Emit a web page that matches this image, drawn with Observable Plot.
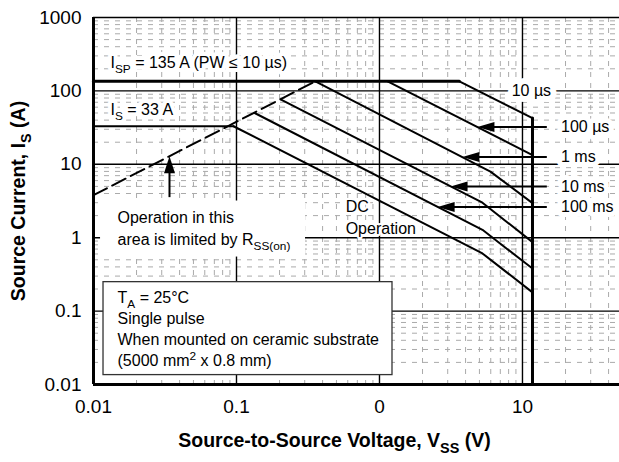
<!DOCTYPE html>
<html><head><meta charset="utf-8">
<script src="https://cdn.jsdelivr.net/npm/d3@7"></script>
<script src="https://cdn.jsdelivr.net/npm/@observablehq/plot@0.6"></script>
<style>body{margin:0;background:#fff}</style>
</head><body><div id="chart"></div>
<script>
// ---- data ----
const xTicks = [0.01, 0.1, 1, 10];
const xTickLabels = ["0.01", "0.1", "0", "10"];
const yTicks = [0.01, 0.1, 1, 10, 100, 1000];
const yTickLabels = ["0.01", "0.1", "1", "10", "100", "1000"];

// [V, I] points
const rssLimit   = [[0.01, 3.8], [0.356, 135]];
const ispLimit   = [[0.01, 135], [3.62, 135]];
const isLimit    = [[0.01, 33], [0.0953, 33]];
const curve10us  = [[3.62, 135], [11.75, 42.6]];
const vssLimit   = [[11.75, 42.6], [11.75, 0.01]];
const curve100us = [[1.14, 135], [11.75, 13.3]];
const curve1ms   = [[0.356, 135], [5.97, 7.95], [11.75, 2.96]];
const curve10ms  = [[0.205, 76], [5.25, 3.0], [11.75, 0.87]];
const curve100ms = [[0.134, 50], [5.25, 1.28], [11.75, 0.38]];
const curveDC    = [[0.0953, 33], [5.25, 0.61], [11.75, 0.18]];

const pulseLabels = ["100 µs", "1 ms", "10 ms", "100 ms"];
const arrowTipV = [4.84, 3.8, 3.14, 2.55];
const arrowTipI = [32.1, 12.6, 4.97, 2.63];

// minor grid positions (2..9 per decade)
const minorTicks = [];
for (let e = -2; e <= 2; e++) for (let m = 2; m <= 9; m++) minorTicks.push(+(m * Math.pow(10, e)).toPrecision(3));

const arrows = pulseLabels.map((label, i) => ({label, v: arrowTipV[i], i: arrowTipI[i]}));

const font = "'Liberation Sans', Arial, Helvetica, sans-serif";
const leftHead = {draw(ctx) { ctx.moveTo(0, 0); ctx.lineTo(17, -5); ctx.lineTo(17, 5); ctx.closePath(); }};
const upHead = {draw(ctx) { ctx.moveTo(0, 0); ctx.lineTo(-5.5, 17); ctx.lineTo(5.5, 17); ctx.closePath(); }};
const P = d => d[0], C = d => d[1];
const ann = {fontSize: 16, textAnchor: "start", fill: "black", lineAnchor: "middle"};
// text with a white knock-out behind it (drawn as a separate layer so glyphs are never covered)
const halo = (data, opts, w = 8) => [
  Plot.text(data, {...opts, fill: "white", stroke: "white", strokeWidth: w}),
  Plot.text(data, {...opts})
];

const plot = Plot.plot({
  width: 619, height: 462,
  marginLeft: 93, marginRight: 0, marginTop: 17, marginBottom: 78,
  style: {fontFamily: font, fontSize: "19px", color: "#000", background: "#fff", overflow: "visible"},
  x: {type: "log", domain: [0.01, 47.7], axis: null},
  y: {type: "log", domain: [0.01, 1000], axis: null},
  marks: [
    Plot.ruleX(minorTicks.filter(v => v > 0.01 && v < 47.7), {stroke: "#aaa", strokeWidth: 1, strokeDasharray: "5,6"}),
    Plot.ruleY(minorTicks.filter(v => v > 0.01 && v < 1000), {stroke: "#aaa", strokeWidth: 1, strokeDasharray: "5,6"}),
    Plot.ruleX(xTicks.slice(1), {stroke: "black", strokeWidth: 1.4}),
    Plot.ruleY(yTicks.slice(1), {stroke: "black", strokeWidth: 1.4}),

    // blank area behind the R_SS(on) note
    Plot.rect([0], {x1: 0.0112, x2: 0.304, y1: 0.545, y2: 3.16, fill: "white"}),
    // conditions box
    Plot.rect([0], {x1: 0.01175, x2: 1.233, y1: 0.01343, y2: 0.248, fill: "white", stroke: "#333", strokeWidth: 1.3}),

    // annotations
    ...halo(["I_{SP} = 135 A (PW ≤ 10 µs)"], {...ann, x: 0.01315, y: 239}),
    ...halo(["I_{S} = 33 A"], {...ann, x: 0.01315, y: 54.7}),
    Plot.text(["Operation in this"], {...ann, x: 0.01472, y: 1.85}),
    Plot.text(["area is limited by R_{SS(on)}"], {...ann, x: 0.01472, y: 0.93}),
    ...halo(["DC"], {...ann, x: 0.58, y: 2.6}, 4),
    ...halo(["Operation"], {...ann, x: 0.58, y: 1.33}, 4),
    Plot.text(["T_{A} = 25°C\nSingle pulse\nWhen mounted on ceramic substrate\n(5000 mm^{2} x 0.8 mm)"],
      {...ann, x: 0.01472, y: 0.155, lineHeight: 1.31, dy: 31}),
    ...halo(["10 µs"], {...ann, x: 8.4, y: 100}, 12),
    ...halo(arrows, {...ann, x: 18.6, y: "i", text: "label"}, 10),

    // limits and curves
    Plot.line(rssLimit, {x: P, y: C, stroke: "black", strokeWidth: 2, strokeDasharray: "15,6"}),
    Plot.line(ispLimit, {x: P, y: C, stroke: "black", strokeWidth: 3}),
    Plot.line(isLimit, {x: P, y: C, stroke: "black", strokeWidth: 2}),
    Plot.line(curve10us, {x: P, y: C, stroke: "black", strokeWidth: 2}),
    Plot.line(curve100us, {x: P, y: C, stroke: "black", strokeWidth: 2}),
    Plot.line(curve1ms, {x: P, y: C, stroke: "black", strokeWidth: 2}),
    Plot.line(curve10ms, {x: P, y: C, stroke: "black", strokeWidth: 2}),
    Plot.line(curve100ms, {x: P, y: C, stroke: "black", strokeWidth: 2}),
    Plot.line(curveDC, {x: P, y: C, stroke: "black", strokeWidth: 2}),
    Plot.line(vssLimit, {x: P, y: C, stroke: "black", strokeWidth: 3}),

    // arrows
    Plot.link(arrows, {x1: 14.8, x2: d => d.v * 1.12, y1: "i", y2: "i", stroke: "black", strokeWidth: 2}),
    Plot.dot(arrows, {x: "v", y: "i", symbol: leftHead, r: 5, fill: "black", stroke: null}),
    Plot.link([0], {x1: 0.034, x2: 0.034, y1: 3.57, y2: 10, stroke: "black", strokeWidth: 2}),
    Plot.dot([0], {x: 0.034, y: 12.9, symbol: upHead, r: 5, fill: "black", stroke: null}),

    // frame
    Plot.ruleX([0.01], {stroke: "black", strokeWidth: 3}),
    Plot.ruleY([0.01], {stroke: "black", strokeWidth: 3}),

    // tick labels
    Plot.axisX({ticks: xTicks, tickFormat: d => xTickLabels[xTicks.indexOf(d)], tickSize: 0, tickPadding: 15, label: null, fontSize: 19}),
    Plot.axisY({ticks: yTicks, tickFormat: d => yTickLabels[yTicks.indexOf(d)], tickSize: 0, tickPadding: 12, label: null, fontSize: 19}),

    // axis titles
    Plot.text(["Source-to-Source Voltage, V_{SS} (V)"], {frameAnchor: "bottom", dx: -22, dy: 56, lineAnchor: "middle", fontWeight: "bold", fontSize: 19.5}),
    Plot.text(["Source Current, I_{S} (A)"], {frameAnchor: "left", dx: -75, rotate: -90, textAnchor: "middle", lineAnchor: "middle", fontWeight: "bold", fontSize: 19.5})
  ]
});
document.getElementById("chart").appendChild(plot);

// turn _{..} and ^{..} into sub/superscript tspans
function applyScripts(root) {
  const els = Array.from(root.querySelectorAll("text, tspan"))
    .filter(el => el.childElementCount === 0 && /[_^]\{/.test(el.textContent));
  for (const el of els) {
    const fs = parseFloat(getComputedStyle(el).fontSize) || 16;
    const src = el.textContent;
    el.textContent = "";
    const re = /([_^])\{([^}]*)\}/g;
    let last = 0, shift = 0, m;
    const add = (txt, kind) => {
      const t = document.createElementNS("http://www.w3.org/2000/svg", "tspan");
      t.textContent = txt;
      const target = kind === "_" ? 0.3 * fs : kind === "^" ? -0.42 * fs : 0;
      const dy = target - shift;
      if (dy) t.setAttribute("dy", dy);
      shift = target;
      if (kind) t.setAttribute("font-size", 0.74 * fs);
      el.appendChild(t);
    };
    while ((m = re.exec(src))) {
      if (m.index > last) add(src.slice(last, m.index), null);
      add(m[2], m[1]);
      last = re.lastIndex;
    }
    if (last < src.length) add(src.slice(last), null);
  }
}
applyScripts(plot);
</script>
</body></html>
